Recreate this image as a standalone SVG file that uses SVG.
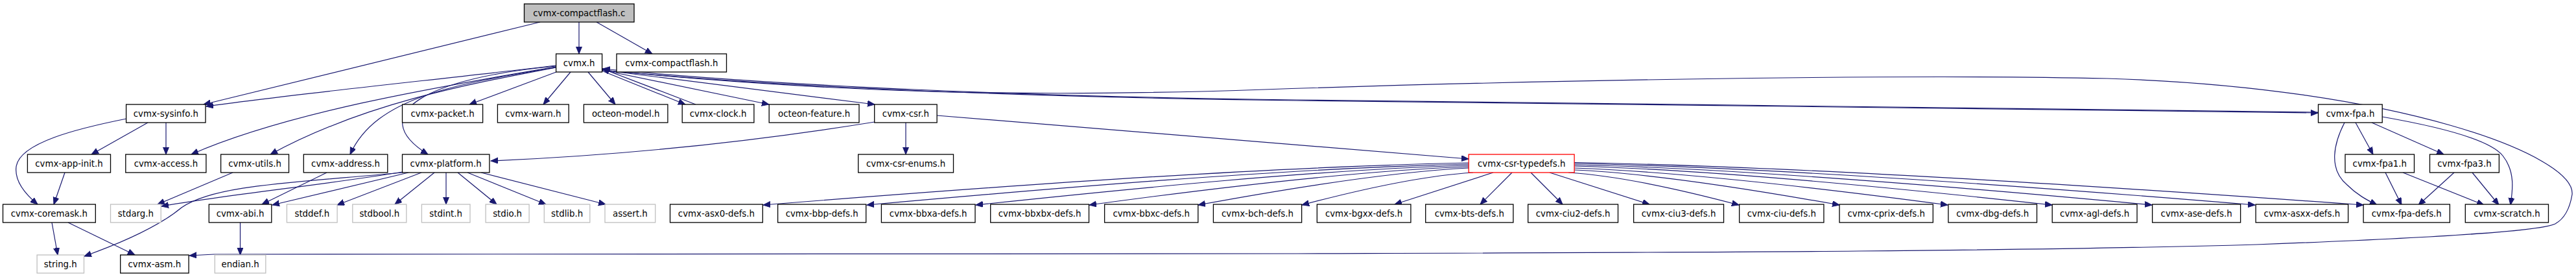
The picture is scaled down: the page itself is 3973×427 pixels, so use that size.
<svg xmlns="http://www.w3.org/2000/svg" width="3973" height="427" viewBox="0 0 3973 427">
<style>
.n rect{fill:#fff;stroke:#000;stroke-width:1.3}
.n.g rect{stroke:#bfbfbf}
.n.r rect{stroke:#ff0000}
.n.s rect{fill:#bfbfbf}
text{font-family:"DejaVu Sans","Liberation Sans",sans-serif;font-size:13.33px;text-anchor:middle;fill:#000}
.e path{fill:none;stroke:#191970;stroke-width:1.2;marker-end:url(#a)}
</style>
<defs>
<marker id="a" markerUnits="userSpaceOnUse" markerWidth="12" markerHeight="10" refX="11" refY="4.5" orient="auto"><path d="M0,0 L11,4.5 L0,9 z" fill="#191970" stroke="#191970" stroke-width="1"/></marker>
</defs>
<rect width="3973" height="427" fill="#fff"/>
<g id="edges" class="e">
<path d="M833,34 L314,161"/>
<path d="M893,34 L893,83"/>
<path d="M920,34 L1006,83"/>
<path d="M857,101 C700,120 450,145 318,164"/>
<path d="M857,103 C700,130 450,170 295,238"/>
<path d="M857,104 C720,130 560,160 417,238"/>
<path d="M857,104 C700,130 580,150 540,238"/>
<path d="M857,102 C660,120 560,175 660,238"/>
<path d="M858,111 L724,161"/>
<path d="M880,111 L838,161"/>
<path d="M907,111 L949,161"/>
<path d="M928,109 L1057,161"/>
<path d="M1073,161 L929,106"/>
<path d="M929,108 L1186,161"/>
<path d="M929,108 L1349,161"/>
<path d="M929,108 C1200,135 1600,150 2000,155 C2500,160 3300,172 3575,174"/>
<path d="M3575,173 C3300,171 2500,159 2000,154 C1600,149 1200,133 930,106"/>
<path d="M929,108 C1300,145 1600,150 1950,138 C2300,126 2900,113 3250,121 C3700,135 3973,240 3967,300 C3962,330 3950,340 3941,345 C3920,355 3800,365 3480,377 C3100,388 2600,389 2000,391 C1400,393 800,390 330,392 L292,394"/>
<path d="M1397,189 L1397,238"/>
<path d="M1349,188 C1150,220 950,240 757,248"/>
<path d="M1445,178 L2265,245"/>
<path d="M228,189 L141,238"/>
<path d="M256,189 L256,238"/>
<path d="M195,183 C120,198 30,220 25,257 C22,280 40,300 58,315"/>
<path d="M100,266 L83,315"/>
<path d="M80,343 L89,393"/>
<path d="M105,343 L208,393"/>
<path d="M359,266 L243,315"/>
<path d="M504,266 L404,315"/>
<path d="M370.5,343 L370.5,393"/>
<path d="M621,265 C500,285 350,300 249,318"/>
<path d="M621,266 C450,282 330,285 280,320 C250,345 200,370 130,395"/>
<path d="M630,266 L420,316"/>
<path d="M650,266 L520,316"/>
<path d="M670,266 L609,315"/>
<path d="M688,266 L688,315"/>
<path d="M706,266 L766,315"/>
<path d="M721,266 L842,315"/>
<path d="M742,266 L934,315"/>
<path d="M2265,251 C1938,257.5 1503,290 1177,316"/>
<path d="M2265,253 C1986,259 1615,291 1337,316"/>
<path d="M2265,255 C2037,261 1733,292 1505,316"/>
<path d="M2265,257 C2089,263 1856,292 1680,316"/>
<path d="M2265,259 C2140,265 1973,293 1848,316"/>
<path d="M2272,266 C2191,271 2087,295 2008,316"/>
<path d="M2303,266 L2151,315"/>
<path d="M2332,266 L2283,315"/>
<path d="M2361,266 L2410,315"/>
<path d="M2390,266 L2544,315"/>
<path d="M2419,266 C2498,271 2603,295 2682,316"/>
<path d="M2428,262 C2551,267 2714,294 2837,316"/>
<path d="M2428,259 C2601,265 2831,293 3004,316"/>
<path d="M2428,256 C2649,262 2944,292 3165,316"/>
<path d="M2428,254 C2695,260 3052,291 3319,316"/>
<path d="M2428,252 C2743,258 3163,290 3478,316"/>
<path d="M2428,250.5 C2793,257 3280,290 3645,316"/>
<path d="M3616,189 C3600,220 3590,260 3620,285 C3635,300 3650,308 3666,316"/>
<path d="M3633,189 L3660,238"/>
<path d="M3658,189 L3769,238"/>
<path d="M3674,180 C3760,195 3840,215 3860,240 C3880,265 3875,295 3872,316"/>
<path d="M3679,266 L3704,316"/>
<path d="M3706,266 L3831,316"/>
<path d="M3785,266 L3730,316"/>
<path d="M3813,266 L3854,316"/>
</g>
<g id="n_cf_c" class="n s"><rect x="808.5" y="6" width="169.5" height="28"/><text x="893.3" y="25">cvmx-compactflash.c</text></g>
<g id="n_cvmx" class="n"><rect x="857.6" y="83" width="71" height="28"/><text x="893.1" y="102">cvmx.h</text></g>
<g id="n_cf_h" class="n"><rect x="951" y="83" width="169.5" height="28"/><text x="1035.8" y="102">cvmx-compactflash.h</text></g>
<g id="n_sysinfo" class="n"><rect x="194.6" y="161" width="122.4" height="28"/><text x="255.8" y="180">cvmx-sysinfo.h</text></g>
<g id="n_packet" class="n"><rect x="620.5" y="161" width="124.1" height="28"/><text x="682.6" y="180">cvmx-packet.h</text></g>
<g id="n_warn" class="n"><rect x="767.4" y="161" width="109.8" height="28"/><text x="822.3" y="180">cvmx-warn.h</text></g>
<g id="n_model" class="n"><rect x="900.4" y="161" width="129.5" height="28"/><text x="965.2" y="180">octeon-model.h</text></g>
<g id="n_clock" class="n"><rect x="1052.2" y="161" width="110.7" height="28"/><text x="1107.6" y="180">cvmx-clock.h</text></g>
<g id="n_feature" class="n"><rect x="1186.2" y="161" width="138.8" height="28"/><text x="1255.6" y="180">octeon-feature.h</text></g>
<g id="n_csr" class="n"><rect x="1348.7" y="161" width="96.4" height="28"/><text x="1396.9" y="180">cvmx-csr.h</text></g>
<g id="n_fpa" class="n"><rect x="3575.5" y="161" width="98.7" height="28"/><text x="3624.9" y="180">cvmx-fpa.h</text></g>
<g id="n_appinit" class="n"><rect x="42.4" y="238" width="128.1" height="28"/><text x="106.5" y="257">cvmx-app-init.h</text></g>
<g id="n_access" class="n"><rect x="193.8" y="238" width="124.1" height="28"/><text x="255.9" y="257">cvmx-access.h</text></g>
<g id="n_utils" class="n"><rect x="340.6" y="238" width="104.9" height="28"/><text x="393.1" y="257">cvmx-utils.h</text></g>
<g id="n_address" class="n"><rect x="468.3" y="238" width="129.5" height="28"/><text x="533.1" y="257">cvmx-address.h</text></g>
<g id="n_platform" class="n"><rect x="620.5" y="238" width="134.4" height="28"/><text x="687.7" y="257">cvmx-platform.h</text></g>
<g id="n_csrenums" class="n"><rect x="1323.7" y="238" width="146.8" height="28"/><text x="1397.1" y="257">cvmx-csr-enums.h</text></g>
<g id="n_typedefs" class="n r"><rect x="2265.2" y="238" width="162.9" height="28"/><text x="2346.7" y="257">cvmx-csr-typedefs.h</text></g>
<g id="n_fpa1" class="n"><rect x="3617" y="238" width="106.5" height="28"/><text x="3670.3" y="257">cvmx-fpa1.h</text></g>
<g id="n_fpa3" class="n"><rect x="3747.5" y="238" width="106.9" height="28"/><text x="3801" y="257">cvmx-fpa3.h</text></g>
<g id="n_coremask" class="n"><rect x="4.5" y="315" width="142.8" height="28"/><text x="75.9" y="334">cvmx-coremask.h</text></g>
<g id="n_stdarg" class="n g"><rect x="170.5" y="315" width="77.7" height="28"/><text x="209.4" y="334">stdarg.h</text></g>
<g id="n_abi" class="n"><rect x="322.3" y="315" width="96.5" height="28"/><text x="370.6" y="334">cvmx-abi.h</text></g>
<g id="n_stddef" class="n g"><rect x="442.4" y="315" width="77.7" height="28"/><text x="481.3" y="334">stddef.h</text></g>
<g id="n_stdbool" class="n g"><rect x="543.8" y="315" width="83" height="28"/><text x="585.3" y="334">stdbool.h</text></g>
<g id="n_stdint" class="n g"><rect x="650.4" y="315" width="74.6" height="28"/><text x="687.7" y="334">stdint.h</text></g>
<g id="n_stdio" class="n g"><rect x="749.1" y="315" width="67" height="28"/><text x="782.6" y="334">stdio.h</text></g>
<g id="n_stdlib" class="n g"><rect x="839.3" y="315" width="70.5" height="28"/><text x="874.6" y="334">stdlib.h</text></g>
<g id="n_assert" class="n g"><rect x="933" y="315" width="77.7" height="28"/><text x="971.9" y="334">assert.h</text></g>
<g id="n_asx0" class="n"><rect x="1033.5" y="315" width="142.8" height="28"/><text x="1104.9" y="334">cvmx-asx0-defs.h</text></g>
<g id="n_bbp" class="n"><rect x="1199.6" y="315" width="136.1" height="28"/><text x="1267.7" y="334">cvmx-bbp-defs.h</text></g>
<g id="n_bbxa" class="n"><rect x="1359.4" y="315" width="144.6" height="28"/><text x="1431.7" y="334">cvmx-bbxa-defs.h</text></g>
<g id="n_bbxbx" class="n"><rect x="1527.7" y="315" width="151.8" height="28"/><text x="1603.6" y="334">cvmx-bbxbx-defs.h</text></g>
<g id="n_bbxc" class="n"><rect x="1703.6" y="315" width="144.2" height="28"/><text x="1775.7" y="334">cvmx-bbxc-defs.h</text></g>
<g id="n_bch" class="n"><rect x="1871.4" y="315" width="136.2" height="28"/><text x="1939.5" y="334">cvmx-bch-defs.h</text></g>
<g id="n_bgxx" class="n"><rect x="2031.3" y="315" width="144.6" height="28"/><text x="2103.6" y="334">cvmx-bgxx-defs.h</text></g>
<g id="n_bts" class="n"><rect x="2198.7" y="315" width="135.2" height="28"/><text x="2266.3" y="334">cvmx-bts-defs.h</text></g>
<g id="n_ciu2" class="n"><rect x="2356.7" y="315" width="138.8" height="28"/><text x="2426.1" y="334">cvmx-ciu2-defs.h</text></g>
<g id="n_ciu3" class="n"><rect x="2519.6" y="315" width="138.9" height="28"/><text x="2589.1" y="334">cvmx-ciu3-defs.h</text></g>
<g id="n_ciu" class="n"><rect x="2682.6" y="315" width="130.3" height="28"/><text x="2747.8" y="334">cvmx-ciu-defs.h</text></g>
<g id="n_cprix" class="n"><rect x="2837" y="315" width="144.3" height="28"/><text x="2909.2" y="334">cvmx-cprix-defs.h</text></g>
<g id="n_dbg" class="n"><rect x="3004.9" y="315" width="136.6" height="28"/><text x="3073.2" y="334">cvmx-dbg-defs.h</text></g>
<g id="n_agl" class="n"><rect x="3165.2" y="315" width="130.8" height="28"/><text x="3230.6" y="334">cvmx-agl-defs.h</text></g>
<g id="n_ase" class="n"><rect x="3319.6" y="315" width="136" height="28"/><text x="3387.6" y="334">cvmx-ase-defs.h</text></g>
<g id="n_asxx" class="n"><rect x="3479.1" y="315" width="142.5" height="28"/><text x="3550.4" y="334">cvmx-asxx-defs.h</text></g>
<g id="n_fpadefs" class="n"><rect x="3645.1" y="315" width="133.3" height="28"/><text x="3711.8" y="334">cvmx-fpa-defs.h</text></g>
<g id="n_scratch" class="n"><rect x="3802.3" y="315" width="128.2" height="28"/><text x="3866.4" y="334">cvmx-scratch.h</text></g>
<g id="n_string" class="n g"><rect x="57.1" y="393" width="72.4" height="28"/><text x="93.3" y="412">string.h</text></g>
<g id="n_asm" class="n"><rect x="185.7" y="393" width="105.4" height="28"/><text x="238.4" y="412">cvmx-asm.h</text></g>
<g id="n_endian" class="n g"><rect x="331.3" y="393" width="78.5" height="28"/><text x="370.6" y="412">endian.h</text></g>
</svg>
